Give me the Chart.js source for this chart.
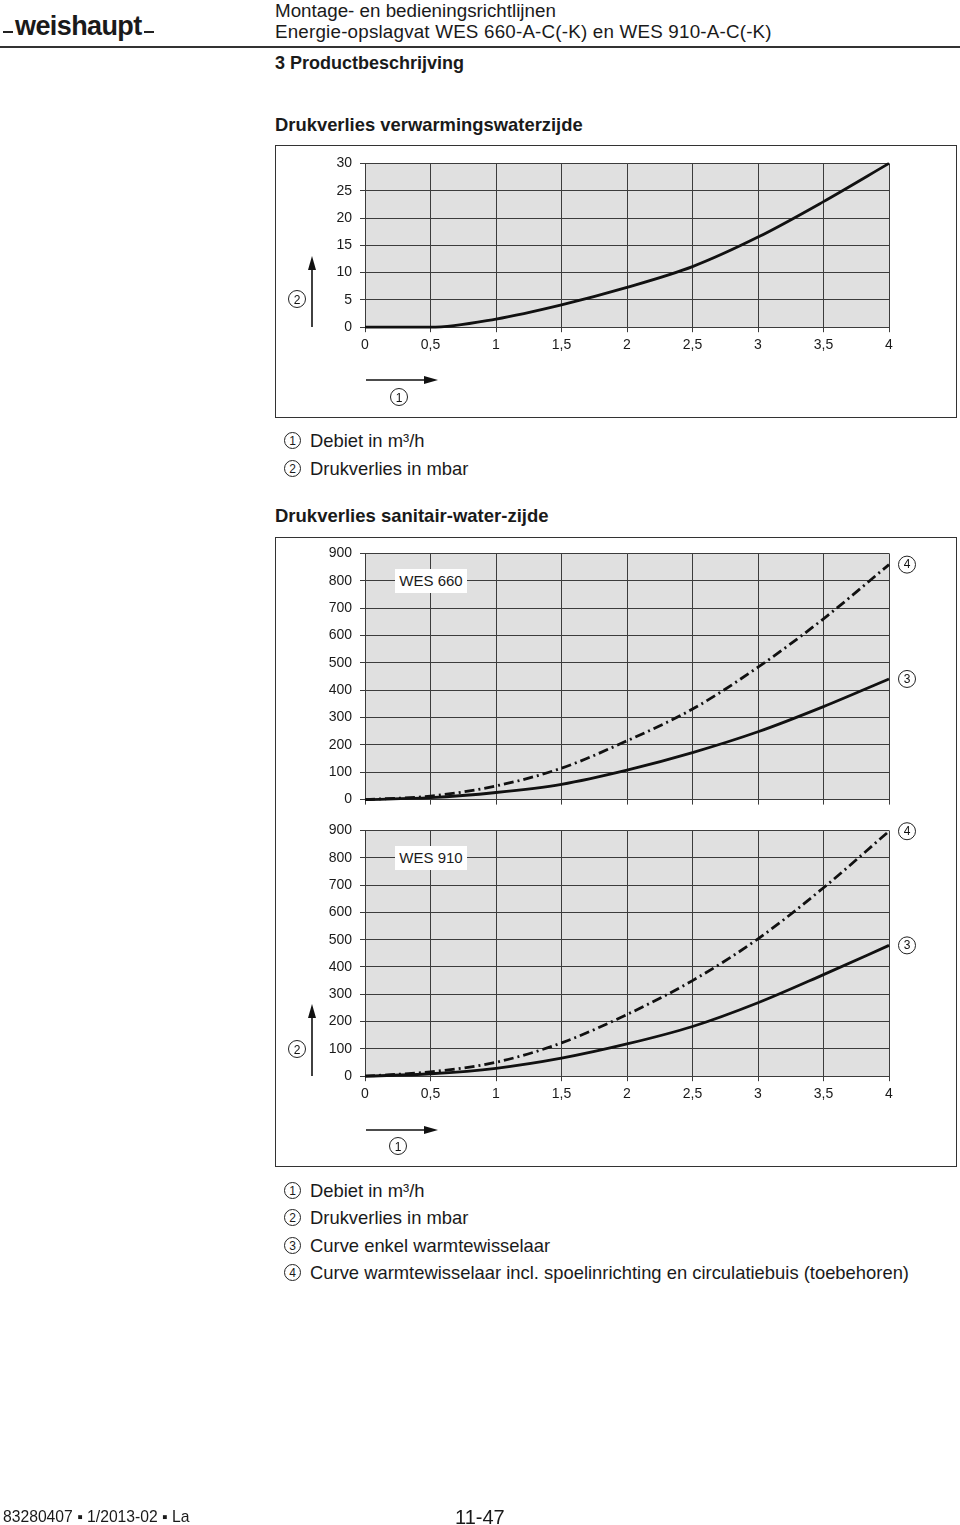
<!DOCTYPE html>
<html>
<head>
<meta charset="UTF-8">
<title>Drukverlies WES</title>
<script src="https://cdn.jsdelivr.net/npm/chart.js"></script>
<style>
body{margin:0; width:960px; height:1525px; position:relative; background:#fff; font-family:"Liberation Sans", Arial, sans-serif; color:#1a1a1a; overflow:hidden;}
.t{position:absolute; white-space:nowrap;}
.box{position:absolute; border:1.5px solid #333; box-sizing:border-box;}
.c{display:inline-block; width:17px; height:17px; border:1px solid #222; border-radius:50%; font-size:12px; line-height:16px; text-align:center; box-sizing:border-box; vertical-align:middle;}
.leg{position:absolute; left:284px; font-size:18.4px; line-height:20px; white-space:nowrap;}
.leg .c{margin-right:9px; position:relative; top:-2px;}
.wes{position:absolute; left:395px; width:72px; height:24px; background:#fff; font-size:15px; line-height:24px; text-align:center;}
canvas{position:absolute;}
</style>
</head>
<body>

<!-- kop -->
<div class="t" style="left:3px; top:31px; width:10px; height:1.5px; background:#222;"></div>
<div class="t" style="left:15px; top:13px; font-size:27px; line-height:27px; font-weight:bold; letter-spacing:-0.6px;">weishaupt</div>
<div class="t" style="left:144px; top:31px; width:10px; height:1.5px; background:#222;"></div>
<div class="t" style="left:275px; top:0px; font-size:18.8px; line-height:21px;">Montage- en bedieningsrichtlijnen</div>
<div class="t" style="left:275px; top:21px; font-size:18.8px; line-height:21px; letter-spacing:0.2px;">Energie-opslagvat WES 660-A-C(-K) en WES 910-A-C(-K)</div>
<div class="t" style="left:0; top:46px; width:960px; height:1.5px; background:#333;"></div>
<div class="t" style="left:275px; top:53px; font-size:18px; line-height:20px; font-weight:bold;">3 Productbeschrijving</div>

<div class="t" style="left:275px; top:114px; font-size:18.4px; line-height:21px; font-weight:bold;">Drukverlies verwarmingswaterzijde</div>
<div class="box" style="left:275px; top:145px; width:682px; height:273px;"></div>
<canvas id="chart1" width="640" height="204" style="left:300px; top:153px;"></canvas>

<div class="leg" style="top:431px;"><span class="c">1</span>Debiet in m³/h</div>
<div class="leg" style="top:459px;"><span class="c">2</span>Drukverlies in mbar</div>

<div class="t" style="left:275px; top:505px; font-size:18.5px; line-height:21px; font-weight:bold;">Drukverlies sanitair-water-zijde</div>
<div class="box" style="left:275px; top:537px; width:682px; height:630px;"></div>
<canvas id="chart2" width="640" height="266" style="left:300px; top:543px;"></canvas>
<canvas id="chart3" width="640" height="286" style="left:300px; top:820px;"></canvas>
<div class="wes" style="top:569px;">WES 660</div>
<div class="wes" style="top:846px;">WES 910</div>

<div class="leg" style="top:1181px;"><span class="c">1</span>Debiet in m³/h</div>
<div class="leg" style="top:1208px;"><span class="c">2</span>Drukverlies in mbar</div>
<div class="leg" style="top:1236px;"><span class="c">3</span>Curve enkel warmtewisselaar</div>
<div class="leg" style="top:1263px;"><span class="c">4</span>Curve warmtewisselaar incl. spoelinrichting en circulatiebuis (toebehoren)</div>

<!-- pijlen -->
<svg class="t" style="left:0; top:0;" width="960" height="1525">
  <g stroke="#111" stroke-width="1.6" fill="#111">
    <line x1="312" y1="327" x2="312" y2="268"/>
    <polygon points="312,256 308,270 316,270" stroke="none"/>
    <line x1="366" y1="380" x2="426" y2="380"/>
    <polygon points="438,380 424,376 424,384" stroke="none"/>
    <line x1="312" y1="1076" x2="312" y2="1016"/>
    <polygon points="312,1004 308,1018 316,1018" stroke="none"/>
    <line x1="366" y1="1130" x2="426" y2="1130"/>
    <polygon points="438,1130 424,1126 424,1134" stroke="none"/>
  </g>
  <g fill="none" stroke="#222" stroke-width="1">
    <circle cx="297" cy="299" r="8.5"/>
    <circle cx="399" cy="397" r="8.5"/>
    <circle cx="297" cy="1049" r="8.5"/>
    <circle cx="398" cy="1146" r="8.5"/>
  </g>
  <g font-family="Liberation Sans, Arial, sans-serif" font-size="12" text-anchor="middle" fill="#111">
    <text x="297" y="303.5">2</text>
    <text x="399" y="401.5">1</text>
    <text x="297" y="1053.5">2</text>
    <text x="398" y="1150.5">1</text>
  </g>
</svg>

<div class="t" style="left:3px; top:1508px; font-size:15.7px; line-height:18px;">83280407 ▪ 1/2013-02 ▪ La</div>
<div class="t" style="left:455px; top:1506px; font-size:20px; line-height:22px;">11-47</div>

<script>
// debiet in m3/h (x)
var debiet = [0, 0.5, 1, 1.5, 2, 2.5, 3, 3.5, 4];
// drukverlies in mbar
var verwarming = [0, 0, 1.5, 4.1, 7.3, 11.1, 16.5, 23, 30];
var wes660Enkel = [0, 7, 26, 56, 108, 172, 248, 340, 441];
var wes660Incl = [0, 13, 50, 115, 215, 331, 484, 661, 859];
var wes910Enkel = [0, 9, 29, 66, 118, 182, 269, 372, 479];
var wes910Incl = [0, 16, 51, 122, 226, 350, 503, 690, 897];
var nummers = ['3', '4'];

var grijs = '#3c3c3c';

function punten(ys){
	var p = [];
	for (var i = 0; i < debiet.length; i++) p.push({x: debiet[i], y: ys[i]});
	return p;
}

// grijze achtergrond van het plotvlak
var plotBg = {
	id: 'plotBg',
	beforeDraw: function(chart){
		var a = chart.chartArea, ctx = chart.ctx;
		ctx.save();
		ctx.fillStyle = '#e0e0e0';
		ctx.fillRect(a.left, a.top, a.right - a.left, a.bottom - a.top);
		ctx.restore();
	}
};

// omcirkelde nummers achter het eind van de curves
var curveNr = {
	id: 'curveNr',
	afterDatasetsDraw: function(chart){
		var ctx = chart.ctx;
		chart.data.datasets.forEach(function(ds, i){
			if (!ds.nummer) return;
			var pts = chart.getDatasetMeta(i).data;
			var p = pts[pts.length - 1];
			var x = p.x + 18, y = p.y;
			ctx.save();
			ctx.strokeStyle = '#222';
			ctx.lineWidth = 1;
			ctx.beginPath();
			ctx.arc(x, y, 8.5, 0, Math.PI * 2);
			ctx.stroke();
			ctx.fillStyle = '#111';
			ctx.font = '12px "Liberation Sans", Arial, sans-serif';
			ctx.textAlign = 'center';
			ctx.textBaseline = 'middle';
			ctx.fillText(ds.nummer, x, y + 0.5);
			ctx.restore();
		});
	}
};

function lijn(ys, nr, dash){
	return {
		data: punten(ys),
		nummer: nr,
		borderColor: '#111',
		borderWidth: 2.8,
		borderDash: dash || [],
		pointRadius: 0,
		cubicInterpolationMode: 'monotone',
		clip: 6
	};
}

function config(series, yMax, yStep, xLabels){
	return {
		type: 'line',
		data: {datasets: series.map(function(s){ return lijn(s[0], s[1], s[2]); })},
		plugins: [plotBg, curveNr],
		options: {
			responsive: false,
			animation: false,
			layout: {autoPadding: false, padding: {top: 10, right: 51, left: 0, bottom: 0}},
			plugins: {legend: {display: false}, tooltip: {enabled: false}},
			scales: {
				x: {
					type: 'linear',
					min: 0, max: 4,
					grid: {color: grijs, lineWidth: 1, tickLength: 5},
					border: {color: grijs},
					ticks: {
						display: xLabels,
						stepSize: 0.5,
						padding: 5,
						color: '#1a1a1a',
						font: {family: '"Liberation Sans", Arial, sans-serif', size: 14},
						maxRotation: 0,
						callback: function(v){ return String(v).replace('.', ','); }
					}
				},
				y: {
					min: 0, max: yMax,
					afterFit: function(s){ s.width = 65; },
					grid: {color: grijs, lineWidth: 1, tickLength: 5},
					border: {color: grijs},
					ticks: {
						stepSize: yStep,
						padding: 8,
						color: '#1a1a1a',
						font: {family: '"Liberation Sans", Arial, sans-serif', size: 14}
					}
				}
			}
		}
	};
}

// grafiek maken en canvas zo zetten dat het plotvlak op de juiste plek valt
function maakGrafiek(id, series, yMax, yStep, xLabels, plotTop, plotBottom){
	var cv = document.getElementById(id);
	var chart = new Chart(cv, config(series, yMax, yStep, xLabels));
	var extra = Math.round((plotBottom - plotTop) - (chart.chartArea.bottom - chart.chartArea.top));
	if (extra !== 0) {
		var h = chart.height + extra;
		chart.destroy();
		cv.height = h;
		cv.style.height = h + 'px';
		chart = new Chart(cv, config(series, yMax, yStep, xLabels));
	}
	cv.style.top = Math.round(plotTop - chart.chartArea.top) + 'px';
}

var streepPunt = [10, 4, 2, 4];

maakGrafiek('chart1', [[verwarming]], 30, 5, true, 163, 327);
maakGrafiek('chart2', [[wes660Enkel, nummers[0]], [wes660Incl, nummers[1], streepPunt]], 900, 100, false, 553, 799);
maakGrafiek('chart3', [[wes910Enkel, nummers[0]], [wes910Incl, nummers[1], streepPunt]], 900, 100, true, 830, 1076);
</script>
</body>
</html>
